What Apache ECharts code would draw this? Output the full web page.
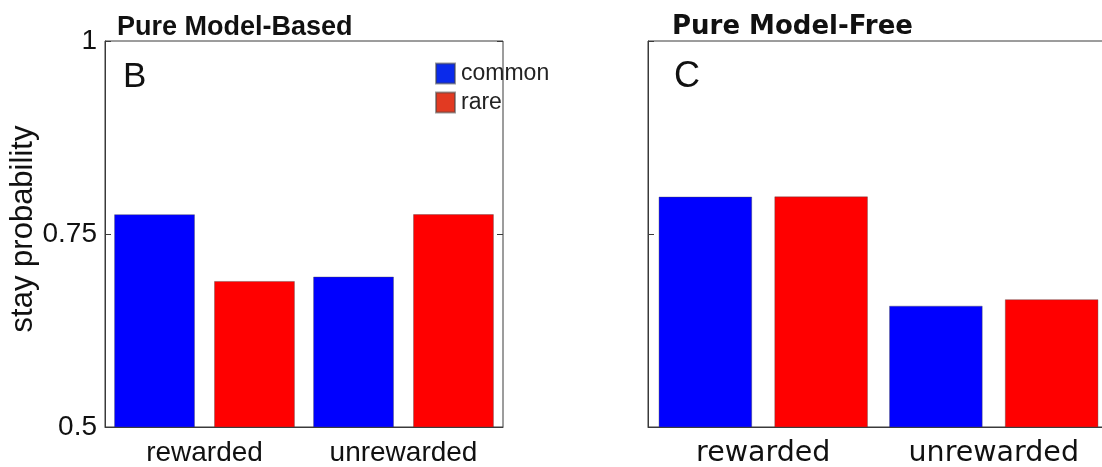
<!DOCTYPE html>
<html>
<head>
<meta charset="utf-8">
<script src="https://cdn.jsdelivr.net/npm/echarts@6/dist/echarts.min.js"></script>
<style>
html,body{margin:0;padding:0;background:#fff;}
#chart{width:1102px;height:467px;}
</style>
</head>
<body>
<div id="chart"></div>
<script>
// ---- data ----
const categories = ['rewarded', 'unrewarded'];
const seriesNames = ['common', 'rare'];
const panelTitles = ['Pure Model-Based', 'Pure Model-Free'];
const panelLetters = ['B', 'C'];
const mbCommon = [0.7755, 0.6947];
const mbRare = [0.689, 0.7756];
const mfCommon = [0.7983, 0.657];
const mfRare = [0.7986, 0.6654];
const yMin = 0.5, yMax = 1, yInterval = 0.25;
const yAxisName = 'stay probability';

// ---- styles ----
const BLUE = '#0000ff', RED = '#ff0000';
const fontL = '"Liberation Sans", Arial, sans-serif';
const fontR = '"DejaVu Sans", sans-serif';
const axisColor = '#3a3a3a';

function xAxes(gridIndex, family, size) {
  return [
    {
      type: 'category', gridIndex, data: categories, position: 'bottom',
      axisLine: { lineStyle: { color: axisColor, width: 1 } },
      axisTick: { inside: true, alignWithLabel: true, length: 6, lineStyle: { color: axisColor } },
      axisLabel: { fontFamily: family, fontSize: size, color: '#111', margin: 12 }
    },
    {
      type: 'category', gridIndex, data: categories, position: 'top',
      axisLine: { show: false },
      axisTick: { inside: true, alignWithLabel: true, length: 6, lineStyle: { color: axisColor } },
      axisLabel: { show: false }
    }
  ];
}
function yAxes(gridIndex, showLabels) {
  return [
    {
      type: 'value', gridIndex, min: yMin, max: yMax, interval: yInterval, position: 'left',
      name: showLabels ? yAxisName : '', nameLocation: 'middle', nameRotate: 90, nameGap: 64,
      nameTextStyle: { fontFamily: fontL, fontSize: 31, color: '#111', padding: [0, 0, 0, 10] },
      axisLine: { show: true, lineStyle: { color: axisColor, width: 1 } },
      axisTick: { show: true, inside: true, length: 6, lineStyle: { color: axisColor } },
      axisLabel: { show: showLabels, fontFamily: fontL, fontSize: 28, color: '#111', margin: 8 },
      splitLine: { show: false }
    },
    {
      type: 'value', gridIndex, min: yMin, max: yMax, interval: yInterval, position: 'right',
      axisLine: { show: false },
      axisTick: { show: true, inside: true, length: 6, lineStyle: { color: axisColor } },
      axisLabel: { show: false },
      splitLine: { show: false }
    }
  ];
}
function bar(name, data, color, xi, yi) {
  return {
    type: 'bar', name, data, xAxisIndex: xi, yAxisIndex: yi,
    barWidth: '40.5%', barGap: '24%',
    itemStyle: { color, borderColor: 'rgba(70,70,70,0.55)', borderWidth: 0.7 },
    emphasis: { disabled: true }
  };
}

const chart = echarts.init(document.getElementById('chart'), null, { renderer: 'canvas' });
chart.setOption({
  animation: false,
  backgroundColor: '#fff',
  title: [
    { text: panelTitles[0], left: 112, top: 9, textStyle: { fontFamily: fontL, fontWeight: 'bold', fontSize: 27, color: '#111' } },
    { text: panelTitles[1], left: 667, top: 9, textStyle: { fontFamily: fontR, fontWeight: 'bold', fontSize: 26, color: '#111' } },
    { text: panelLetters[0], left: 118, top: 55, textStyle: { fontFamily: fontL, fontWeight: 'normal', fontSize: 35, color: '#111' } },
    { text: panelLetters[1], left: 669, top: 54, textStyle: { fontFamily: fontL, fontWeight: 'normal', fontSize: 36, color: '#111' } }
  ],
  legend: {
    orient: 'vertical', left: 435, top: 62, itemWidth: 19, itemHeight: 20, itemGap: 6,
    icon: 'rect', padding: 0,
    textStyle: { fontFamily: fontL, fontSize: 23, color: '#222', padding: [0, 0, 0, 1] },
    data: [
      { name: seriesNames[0], itemStyle: { color: '#0a2aeb' } },
      { name: seriesNames[1], itemStyle: { color: '#e23a22' } }
    ]
  },
  grid: [
    { left: 105, top: 41, width: 398, height: 386, show: true, borderColor: axisColor, borderWidth: 1, outerBoundsMode: 'none', containLabel: false },
    { left: 648, top: 41, width: 461, height: 386, show: true, borderColor: axisColor, borderWidth: 1, outerBoundsMode: 'none', containLabel: false }
  ],
  xAxis: [...xAxes(0, fontL, 28), ...xAxes(1, fontR, 28.5)],
  yAxis: [...yAxes(0, true), ...yAxes(1, false)],
  series: [
    bar(seriesNames[0], mbCommon, BLUE, 0, 0),
    bar(seriesNames[1], mbRare, RED, 0, 0),
    bar(seriesNames[0], mfCommon, BLUE, 2, 2),
    bar(seriesNames[1], mfRare, RED, 2, 2)
  ]
});
</script>
</body>
</html>
